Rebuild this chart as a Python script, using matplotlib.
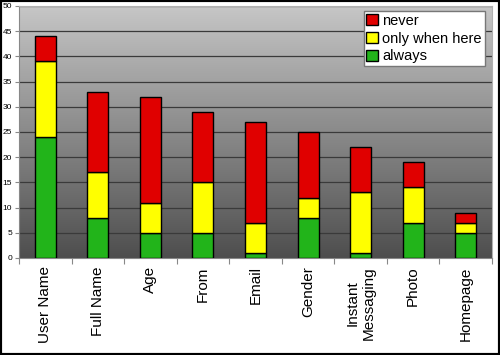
import matplotlib
matplotlib.use("Agg")
import matplotlib.pyplot as plt
import numpy as np
from matplotlib.patches import Rectangle

categories = ["User Name", "Full Name", "Age", "From", "Email", "Gender",
              "Instant\nMessaging", "Photo", "Homepage"]
always = [24, 8, 5, 5, 1, 8, 1, 7, 5]
only_when_here = [15, 9, 6, 10, 6, 4, 12, 7, 2]
never = [5, 16, 21, 14, 20, 13, 9, 5, 2]

plt.rcParams['font.family'] = ['Liberation Sans', 'DejaVu Sans']

fig = plt.figure(figsize=(5, 3.55), dpi=100)
ax = fig.add_axes([19 / 500, 1 - 258 / 355, 473 / 500, 252 / 355])

x = np.arange(len(categories))

# gradient background, light at top, dark at bottom
grad = np.linspace(0, 1, 256).reshape(-1, 1)
cmap = matplotlib.colors.LinearSegmentedColormap.from_list("bg", ["#c6c6c6", "#4e4e4e"])
ax.imshow(grad, aspect="auto", cmap=cmap, extent=[-0.5, len(categories) - 0.5, 0, 50],
          zorder=0, origin="upper")
ax.set_xlim(-0.5, len(categories) - 0.5)
ax.set_ylim(0, 50)

ax.set_yticks(range(0, 51, 5))
ax.yaxis.grid(True, color="#3a3a3a", lw=0.9, zorder=1)
ax.set_axisbelow(True)

always = np.array(always)
only_when_here = np.array(only_when_here)
never = np.array(never)
w = 0.4
b1 = ax.bar(x, always, w, color="#22b41a", edgecolor="black", lw=1, zorder=3, label="always")
b2 = ax.bar(x, only_when_here, w, bottom=always, color="#ffff00", edgecolor="black", lw=1,
            zorder=3, label="only when here")
b3 = ax.bar(x, never, w, bottom=always + only_when_here, color="#e00000", edgecolor="black",
            lw=1, zorder=3, label="never")

ax.set_xticks(np.arange(len(categories) + 1) - 0.5, minor=False)
ax.set_xticklabels([])
ax.set_xticks(x, minor=True)
ax.set_xticklabels(categories, minor=True, rotation=90, fontsize=11, ha="center",
                   va="top", multialignment="center")
ax.tick_params(axis="x", which="minor", length=0, pad=6)
ax.tick_params(axis="x", which="major", length=4, color="#888888", direction="out")
ax.tick_params(axis="y", labelsize=6, length=3, color="#888888", pad=2)

for side in ["top", "right"]:
    ax.spines[side].set_color("#b0b0b0")
ax.spines["left"].set_color("#888888")
ax.spines["bottom"].set_color("#888888")

leg = ax.legend(handles=[b3, b2, b1], loc="upper right", bbox_to_anchor=(0.985, 0.98),
                fontsize=10.5, frameon=True, fancybox=False, handlelength=0.8,
                handleheight=0.8, handletextpad=0.3, borderpad=0.2, labelspacing=0.25,
                borderaxespad=0, framealpha=1)
leg.get_frame().set_edgecolor("#777777")
leg.get_frame().set_linewidth(1)

fig.patches.append(Rectangle((0, 0), 1, 1, transform=fig.transFigure, fill=False,
                             edgecolor="black", lw=3))

fig.savefig("out.png", dpi=100)
